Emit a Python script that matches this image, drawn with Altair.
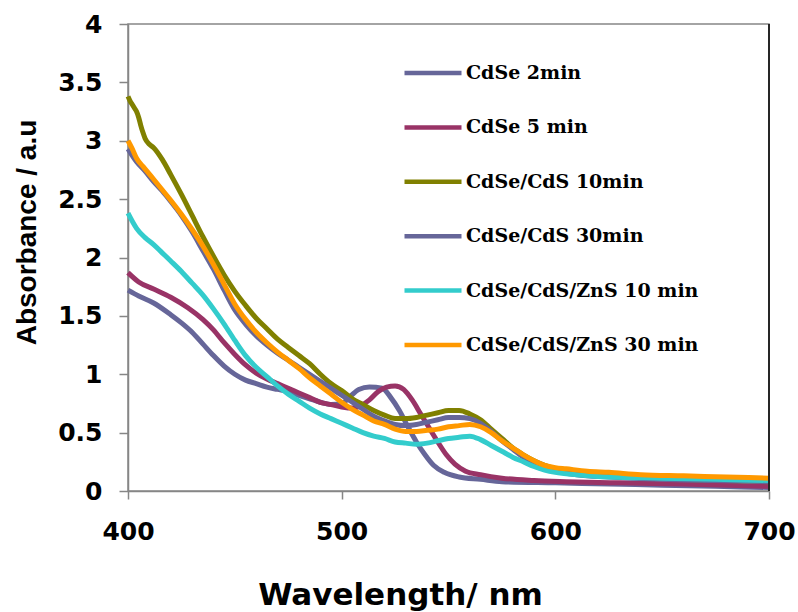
import altair as alt
import pandas as pd

# Sample names, line colours (Excel classic palette) in legend order
names = [
    "CdSe 2min",
    "CdSe 5 min",
    "CdSe/CdS 10min",
    "CdSe/CdS 30min",
    "CdSe/CdS/ZnS 10 min",
    "CdSe/CdS/ZnS 30 min",
]
colors = ["#666699", "#993366", "#808000", "#666699", "#33CCCC", "#FF9900"]

# Absorption spectra: wavelength (nm) and absorbance (a.u.) per sample
cdse_2_wl = [400, 405, 412, 420, 425, 430, 435, 440, 445, 450, 455, 460, 465, 470, 475,
             480, 485, 490, 495, 500, 504, 508, 513, 519, 523, 527, 531, 535, 539, 543,
             548, 555, 565, 575, 600, 625, 650, 675, 700]
cdse_2_abs = [1.72, 1.67, 1.61, 1.51, 1.44, 1.36, 1.26, 1.16, 1.07, 1.00, 0.95, 0.92, 0.89,
              0.87, 0.85, 0.82, 0.79, 0.76, 0.74, 0.75, 0.81, 0.87, 0.89, 0.88, 0.80, 0.69,
              0.55, 0.42, 0.31, 0.22, 0.16, 0.12, 0.10, 0.08, 0.07, 0.06, 0.05, 0.04, 0.03]

cdse_5_wl = [400, 405, 412, 420, 428, 435, 440, 445, 450, 455, 460, 465, 470, 475, 480,
             485, 490, 495, 500, 505, 509, 513, 517, 521, 525, 529, 533, 537, 541, 545,
             549, 553, 558, 565, 575, 590, 605, 630, 660, 700]
cdse_5_abs = [1.87, 1.79, 1.73, 1.66, 1.57, 1.47, 1.38, 1.27, 1.17, 1.08, 1.01, 0.96, 0.92,
              0.88, 0.84, 0.80, 0.76, 0.74, 0.72, 0.71, 0.73, 0.78, 0.85, 0.89, 0.90, 0.87,
              0.78, 0.66, 0.54, 0.42, 0.31, 0.23, 0.17, 0.14, 0.11, 0.09, 0.08, 0.07, 0.06,
              0.04]

cds_10_wl = [400, 401, 402, 403, 404, 405, 406, 407, 408, 410, 412, 416, 420, 425, 430,
             435, 440, 445, 450, 455, 460, 465, 470, 475, 480, 485, 490, 495, 500, 505,
             510, 515, 520, 525, 530, 535, 540, 545, 550, 555, 560, 565, 570, 575, 580,
             585, 590, 595, 600, 610, 620, 640, 660, 680, 700]
cds_10_abs = [3.38, 3.34, 3.31, 3.28, 3.25, 3.20, 3.13, 3.07, 3.02, 2.97, 2.94, 2.84, 2.71,
              2.54, 2.36, 2.18, 2.01, 1.85, 1.71, 1.59, 1.48, 1.39, 1.30, 1.23, 1.16, 1.09,
              1.00, 0.92, 0.86, 0.79, 0.74, 0.69, 0.65, 0.62, 0.62, 0.63, 0.65, 0.67, 0.69,
              0.69, 0.66, 0.61, 0.53, 0.45, 0.37, 0.31, 0.26, 0.22, 0.19, 0.16, 0.14, 0.12,
              0.10, 0.09, 0.08]

cds_30_wl = [400, 404, 408, 412, 416, 420, 425, 430, 435, 440, 445, 450, 455, 460, 465,
             470, 475, 480, 485, 490, 495, 500, 505, 510, 515, 520, 525, 530, 535, 540,
             545, 550, 555, 560, 565, 570, 575, 580, 585, 590, 595, 600, 610, 625, 650,
             675, 700]
cds_30_abs = [2.93, 2.82, 2.74, 2.65, 2.57, 2.48, 2.36, 2.22, 2.06, 1.90, 1.72, 1.55, 1.43,
              1.33, 1.25, 1.18, 1.12, 1.06, 1.00, 0.94, 0.88, 0.82, 0.76, 0.70, 0.64, 0.60,
              0.57, 0.56, 0.57, 0.59, 0.61, 0.63, 0.63, 0.62, 0.58, 0.51, 0.43, 0.36, 0.29,
              0.24, 0.20, 0.17, 0.14, 0.12, 0.10, 0.09, 0.08]

zns_10_wl = [400, 404, 408, 412, 416, 420, 425, 430, 435, 440, 445, 450, 455, 460, 465,
             470, 475, 480, 485, 490, 495, 500, 505, 510, 515, 520, 525, 530, 535, 540,
             545, 550, 555, 560, 565, 570, 575, 580, 585, 590, 595, 600, 610, 625, 650,
             675, 700]
zns_10_abs = [2.38, 2.25, 2.17, 2.11, 2.04, 1.97, 1.88, 1.78, 1.68, 1.56, 1.43, 1.29, 1.16,
              1.06, 0.98, 0.90, 0.83, 0.77, 0.71, 0.66, 0.62, 0.58, 0.54, 0.50, 0.47, 0.45,
              0.42, 0.41, 0.40, 0.41, 0.43, 0.45, 0.46, 0.47, 0.44, 0.39, 0.34, 0.29, 0.25,
              0.21, 0.18, 0.16, 0.14, 0.12, 0.11, 0.10, 0.09]

zns_30_wl = [400, 402, 404, 407, 412, 416, 420, 425, 430, 435, 440, 445, 450, 455, 460,
             465, 470, 475, 480, 485, 490, 495, 500, 505, 510, 515, 520, 525, 530, 535,
             540, 545, 550, 555, 560, 565, 570, 575, 580, 585, 590, 595, 600, 605, 615,
             625, 640, 660, 680, 700]
zns_30_abs = [3.00, 2.93, 2.85, 2.78, 2.67, 2.58, 2.49, 2.37, 2.24, 2.10, 1.94, 1.77, 1.60,
              1.47, 1.36, 1.27, 1.19, 1.12, 1.05, 0.97, 0.90, 0.83, 0.76, 0.70, 0.65, 0.60,
              0.57, 0.53, 0.51, 0.51, 0.52, 0.53, 0.55, 0.56, 0.57, 0.55, 0.50, 0.43, 0.37,
              0.31, 0.26, 0.22, 0.20, 0.19, 0.17, 0.16, 0.14, 0.13, 0.12, 0.11]

x_ticks = [400, 500, 600, 700]
y_ticks = [0, 0.5, 1, 1.5, 2, 2.5, 3, 3.5, 4]

spectra = [
    (cdse_2_wl, cdse_2_abs),
    (cdse_5_wl, cdse_5_abs),
    (cds_10_wl, cds_10_abs),
    (cds_30_wl, cds_30_abs),
    (zns_10_wl, zns_10_abs),
    (zns_30_wl, zns_30_abs),
]

rows = []
for name, (wl, ab) in zip(names, spectra):
    for w, a in zip(wl, ab):
        rows.append({"series": name, "wavelength": w, "absorbance": a})
df = pd.DataFrame(rows)

W, H = 641, 467
AXIS_GREY = "#868686"

x_enc = alt.X(
    "wavelength:Q",
    scale=alt.Scale(domain=[x_ticks[0], x_ticks[-1]], nice=False, zero=False),
    axis=alt.Axis(
        values=x_ticks,
        title="Wavelength/ nm",
        titleFont="DejaVu Sans",
        titleFontSize=31,
        titleFontWeight="bold",
        titleColor="black",
        titleX=272,
        titleY=113,
        titleBaseline="alphabetic",
        labelFont="DejaVu Sans",
        labelFontSize=25,
        labelFontWeight="bold",
        labelColor="black",
        labelPadding=20,
        labelFlush=False,
        labelOverlap=False,
        tickSize=8,
        tickColor=AXIS_GREY,
        tickWidth=1.5,
        domainColor=AXIS_GREY,
        domainWidth=1.5,
        grid=False,
    ),
)

y_enc = alt.Y(
    "absorbance:Q",
    scale=alt.Scale(domain=[y_ticks[0], y_ticks[-1]], nice=False),
    axis=alt.Axis(
        values=y_ticks,
        format="~g",
        title="Absorbance / a.u",
        titleFont="Liberation Sans",
        titleFontSize=28,
        titleFontWeight="bold",
        titleColor="black",
        titleAngle=270,
        titleBaseline="alphabetic",
        titleX=-93,
        titleY=208,
        labelFont="DejaVu Sans",
        labelFontSize=25,
        labelFontWeight="bold",
        labelColor="black",
        labelPadding=17,
        labelFlush=False,
        labelOverlap=False,
        tickSize=9,
        tickColor=AXIS_GREY,
        tickWidth=1.5,
        domainColor=AXIS_GREY,
        domainWidth=1.5,
        grid=False,
    ),
)

color_enc = alt.Color(
    "series:N",
    title=None,
    scale=alt.Scale(domain=names, range=colors),
    legend=alt.Legend(
        orient="none",
        legendX=274,
        legendY=18,
        padding=0,
        symbolType="stroke",
        symbolSize=3249,
        symbolStrokeWidth=4.5,
        labelFont="DejaVu Serif",
        labelFontSize=19,
        labelFontWeight="bold",
        labelColor="black",
        labelOffset=2,
        labelLimit=400,
        rowPadding=13.4,
    ),
)

# one layer per sample so later samples are drawn on top
layers = [
    alt.Chart(df)
    .transform_filter(alt.datum.series == name)
    .mark_line(strokeWidth=5, interpolate="monotone")
    .encode(x=x_enc, y=y_enc, color=color_enc)
    for name in names
]

# darker right-hand frame edge at the end of the wavelength range
frame = (
    alt.Chart(pd.DataFrame({"wavelength": [x_ticks[-1]]}))
    .mark_rule(color="#262626", strokeWidth=2)
    .encode(x=alt.X("wavelength:Q"))
)

chart = (
    alt.layer(*layers, frame)
    .properties(
        width=W,
        height=H,
        autosize=alt.AutoSizeParams(type="none"),
        padding={"left": 128, "top": 24, "right": 798 - 128 - W, "bottom": 612 - 24 - H},
        background="white",
    )
    .configure_view(stroke=AXIS_GREY, strokeWidth=1.5)
)

chart.save("out.html", embed_options={"renderer": "svg", "actions": False})
